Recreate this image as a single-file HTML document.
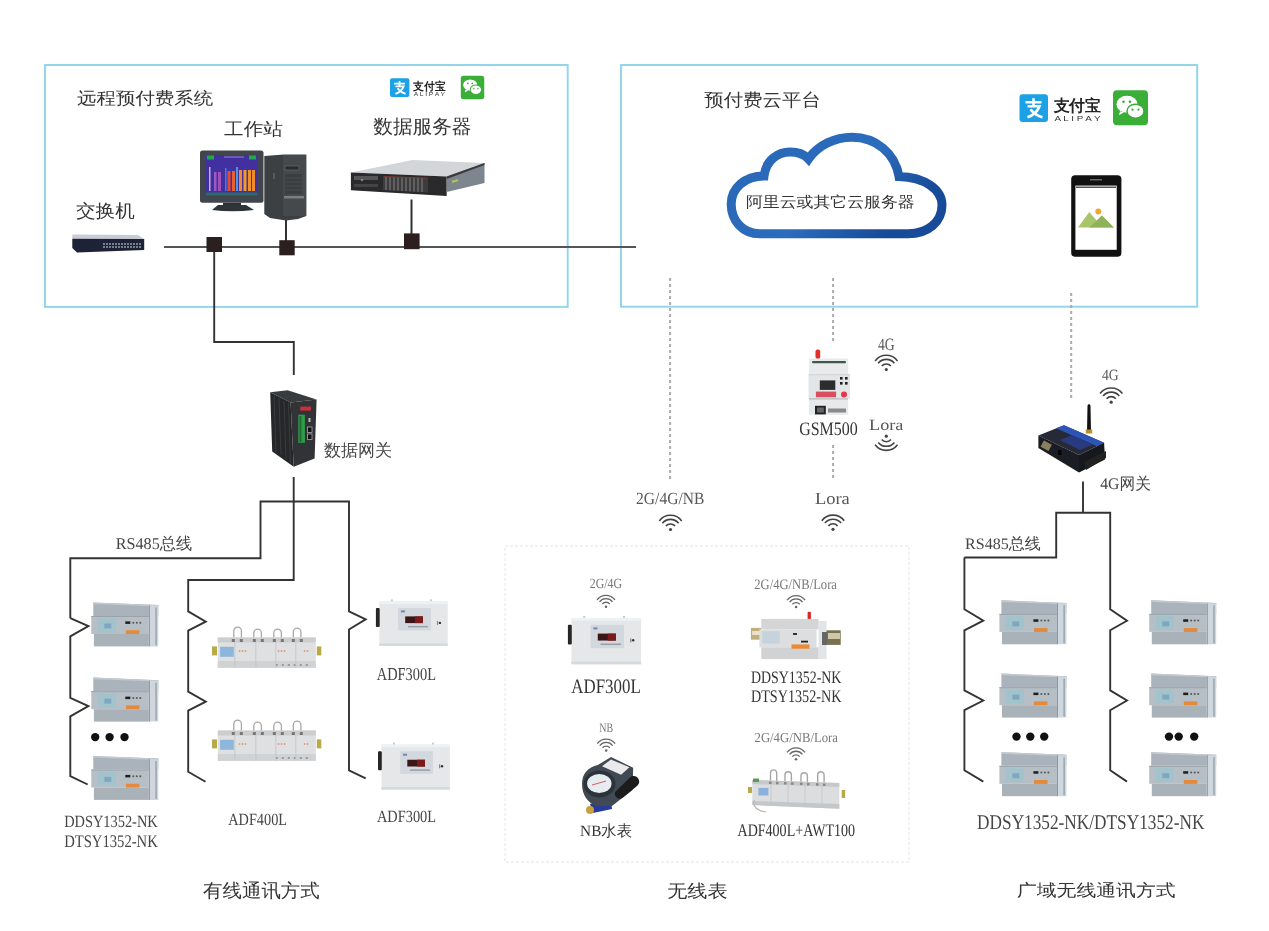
<!DOCTYPE html><html><head><meta charset="utf-8"><style>html,body{margin:0;padding:0;background:#fff;width:1269px;height:931px;overflow:hidden}svg{display:block}</style></head><body>
<svg width="1269" height="931" viewBox="0 0 1269 931" style="opacity:0.999">
<defs>
<linearGradient id="cloudg" gradientUnits="userSpaceOnUse" x1="780" y1="130" x2="880" y2="240">
 <stop offset="0" stop-color="#2a68b8"/><stop offset="0.55" stop-color="#2c6cbc"/><stop offset="1" stop-color="#174a98"/>
</linearGradient>
<symbol id="wifi" overflow="visible">
 <path d="M-11.2 -8.6 A14 14 0 0 1 11.2 -8.6" fill="none" stroke="currentColor" stroke-width="1.6"/>
 <path d="M-8.1 -6.2 A10.4 10.4 0 0 1 8.1 -6.2" fill="none" stroke="currentColor" stroke-width="1.6"/>
 <path d="M-4.6 -3.4 A6 6 0 0 1 4.6 -3.4" fill="none" stroke="currentColor" stroke-width="1.6"/>
 <circle cx="0" cy="0" r="1.6" fill="currentColor"/>
</symbol>
<symbol id="meter" overflow="visible">
 <path d="M2 0 L67 2.6 L67 13.6 L2 13.6 Z" fill="#aab3bb"/>
 <path d="M2 0 L67 2.6 L67 4 L2 1.6 Z" fill="#c2cad0"/>
 <rect x="0" y="13.6" width="57.6" height="18" fill="#b6bfc5"/>
 <rect x="0" y="13.6" width="57.6" height="1" fill="#9aa3aa"/>
 <rect x="6.5" y="16" width="18" height="13.5" fill="#a2c2cc"/>
 <rect x="13" y="21" width="7" height="5" fill="#7fa8c0"/>
 <rect x="34" y="19" width="5" height="2.5" fill="#1e1e1e"/>
 <circle cx="42" cy="20.3" r="1" fill="#555"/><circle cx="45.5" cy="20.3" r="1" fill="#555"/><circle cx="49" cy="20.3" r="1" fill="#555"/>
 <rect x="34.6" y="27.8" width="13.5" height="4" fill="#e48a3a"/>
 <rect x="2.6" y="31.6" width="55" height="12.4" fill="#a9b2b9"/>
 <path d="M57.6 3 L67 3.4 L67 44 L57.6 44 Z" fill="#cdd7dd"/>
 <rect x="57.6" y="3" width="1" height="41" fill="#8f989f"/>
 <rect x="64" y="5" width="1.5" height="38" fill="#9aa5ad"/>
</symbol>
<symbol id="adf400" overflow="visible">
 <g fill="none" stroke="#a8a8a8" stroke-width="1.3">
  <path d="M16 13 V4 A3.8 3.8 0 0 1 23.6 4 V13"/>
  <path d="M36 13 V6 A3.8 3.8 0 0 1 43.6 6 V13"/>
  <path d="M56 13 V6 A3.8 3.8 0 0 1 63.6 6 V13"/>
  <path d="M75.5 13 V5 A3.8 3.8 0 0 1 83.1 5 V13"/>
 </g>
 <rect x="0" y="10.5" width="98" height="30.3" fill="#dfe0e1"/>
 <rect x="0" y="10.5" width="98" height="5" fill="#cbcdcf"/>
 <rect x="0" y="34" width="98" height="6.8" fill="#d0d2d4"/>
 <g fill="#777"><rect x="14" y="12" width="3" height="3"/><rect x="22" y="12" width="3" height="3"/><rect x="35" y="12" width="3" height="3"/><rect x="43" y="12" width="3" height="3"/><rect x="55" y="12" width="3" height="3"/><rect x="63" y="12" width="3" height="3"/><rect x="74" y="12" width="3" height="3"/><rect x="82" y="12" width="3" height="3"/></g>
 <g fill="#9a9a9a"><rect x="58" y="37" width="2" height="2"/><rect x="64" y="37" width="2" height="2"/><rect x="70" y="37" width="2" height="2"/><rect x="76" y="37" width="2" height="2"/><rect x="82" y="37" width="2" height="2"/><rect x="88" y="37" width="2" height="2"/></g>
 <rect x="2.3" y="19.8" width="13.7" height="10" fill="#8db6dc"/>
 <rect x="-5.8" y="19.4" width="5" height="9" fill="#b8a94a"/>
 <rect x="99" y="19.4" width="4.5" height="9" fill="#b8a94a"/>
 <path d="M17 15 V41 M38 15 V41 M58 15 V41 M78 15 V41" stroke="#c2c4c6" stroke-width="0.8"/>
 <g fill="#e0a080"><rect x="21" y="23" width="1.5" height="2"/><rect x="24" y="23" width="1.5" height="2"/><rect x="27" y="23" width="1.5" height="2"/><rect x="60" y="23" width="1.5" height="2"/><rect x="63" y="23" width="1.5" height="2"/><rect x="66" y="23" width="1.5" height="2"/><rect x="86" y="23" width="1.5" height="2"/><rect x="89" y="23" width="1.5" height="2"/></g>
</symbol>
<symbol id="adf300" overflow="visible">
 <rect x="15" y="-2" width="2" height="3" fill="#ccc"/><rect x="54" y="-2" width="2" height="3" fill="#ccc"/>
 <rect x="3.5" y="0" width="68.3" height="44.5" fill="#e5e7e9"/>
 <rect x="3.5" y="0" width="68.3" height="2.5" fill="#f0f1f2"/>
 <rect x="3.5" y="42" width="68.3" height="2.5" fill="#d6d8da"/>
 <rect x="0" y="6.5" width="3.8" height="19" rx="1" fill="#262626"/>
 <rect x="22.2" y="6.6" width="32.8" height="22.4" fill="#d3d7de"/>
 <rect x="29.3" y="15" width="17.7" height="6.7" fill="#3c1616"/>
 <rect x="39" y="15" width="8" height="6.7" fill="#7a1a1a"/>
 <rect x="25" y="9" width="4" height="2" fill="#7788aa"/>
 <rect x="32" y="24.5" width="20" height="1.5" fill="#9aa0a8"/>
 <rect x="61" y="19.5" width="1.2" height="4" fill="#888"/><circle cx="64" cy="21.5" r="1.2" fill="#333"/>
</symbol>
</defs>
<rect x="45" y="65" width="522.7" height="241.9" fill="none" stroke="#94d6e9" stroke-width="2"/>
<rect x="621" y="65" width="576.2" height="241.7" fill="none" stroke="#94d6e9" stroke-width="2"/>
<rect x="505" y="546" width="404" height="316" fill="none" stroke="#e4e4e4" stroke-width="1" stroke-dasharray="3 2"/>
<line x1="164" y1="247" x2="636" y2="247" stroke="#555" stroke-width="2"/>
<line x1="286" y1="220" x2="286" y2="241" stroke="#333" stroke-width="2"/>
<line x1="411.5" y1="199.5" x2="411.5" y2="234" stroke="#333" stroke-width="2"/>
<g fill="#2b1f1f"><rect x="206.5" y="237" width="15.5" height="15"/><rect x="279.3" y="240.2" width="15.4" height="15.1"/><rect x="404" y="233.4" width="15.6" height="15.8"/></g>
<g fill="none" stroke="#333" stroke-width="1.9" stroke-linejoin="miter">
<path d="M214.2 252 V342 H293.8 V375"/>
<path d="M293.7 477 V580 H188.2 V611.4 L205.8 621.6 L188.2 630.6 V691.6 L205.8 701.7 L188.2 710.7 V771.7 L205.5 781.8"/>
<path d="M70.3 618.2 V558.2 H260.5 V501.5 H349 V611.4 L365.7 619.3 L349 629.5 V770.4 L365.7 778.3"/>
<path d="M70.3 618.2 L88.4 626.1 L70.3 636.3 V697.9 L88.4 706.2 L70.3 716.4 V776.2 L87.7 784.5"/>
<path d="M1083 481.5 V512.8"/>
<path d="M964.4 557.5 H1056.2 V512.8 H1110.2 V609.3 L1127 620.7 L1110.2 630.3 V690.4 L1127 700.5 L1110.2 710.2 V770.3 L1127 781.6"/>
<path d="M964.4 557.5 V609.3 L983.3 620.7 L964.4 630.3 V690.4 L983.3 700.5 L964.4 710.2 V770.3 L983.3 781.6"/>
</g>
<g stroke="#aaaaaa" stroke-width="2" stroke-dasharray="3 3">
<line x1="670.1" y1="278" x2="670.1" y2="480"/>
<line x1="833.1" y1="278" x2="833.1" y2="343"/>
<line x1="833.1" y1="445" x2="833.1" y2="480"/>
<line x1="1071.2" y1="293" x2="1071.2" y2="398"/>
</g>
<use href="#wifi" transform="translate(886.3,369.5) scale(1.0)" style="color:#444"/>
<use href="#wifi" transform="translate(886.3,436.2) scale(1,-1)" style="color:#444"/>
<use href="#wifi" transform="translate(670.5,529.5) scale(1.0)" style="color:#444"/>
<use href="#wifi" transform="translate(833,529.3) scale(1.0)" style="color:#444"/>
<use href="#wifi" transform="translate(1111.2,402.2) scale(1.0)" style="color:#444"/>
<use href="#wifi" transform="translate(606,606.7) scale(0.8)" style="color:#666"/>
<use href="#wifi" transform="translate(796.1,607) scale(0.8)" style="color:#666"/>
<use href="#wifi" transform="translate(606.2,750.5) scale(0.8)" style="color:#666"/>
<use href="#wifi" transform="translate(796,759.3) scale(0.8)" style="color:#666"/>
<g>
<rect x="200" y="150.4" width="63.5" height="52.4" rx="2.5" fill="#40464b"/>
<rect x="206" y="155" width="51.5" height="40" fill="#4330a0"/>
<rect x="207" y="155.5" width="7" height="4" fill="#22a84a"/><rect x="249" y="155.5" width="7" height="4" fill="#22a84a"/>
<rect x="224" y="156" width="20" height="2" fill="#6a5ab8"/>
<rect x="209" y="167" width="1.5" height="24" fill="#c0b0e8"/>
<rect x="214" y="172" width="2.5" height="19" fill="#9a58c0"/><rect x="218" y="172" width="3" height="19" fill="#a050b8"/>
<rect x="225" y="168" width="1.5" height="23" fill="#3f7ee0"/><rect x="227.5" y="171" width="3" height="20" fill="#e84a30"/><rect x="232" y="171" width="3" height="20" fill="#e86030"/>
<rect x="236" y="167" width="2" height="24" fill="#4a9ae0"/>
<rect x="239" y="170" width="3" height="21" fill="#f08a30"/><rect x="243.5" y="170" width="3" height="21" fill="#f39a2a"/><rect x="248" y="170" width="3" height="21" fill="#f0922c"/><rect x="252" y="170" width="3" height="21" fill="#f08a30"/>
<rect x="206" y="192.5" width="51.5" height="3" fill="#2f6a6a"/>
<rect x="223" y="202.8" width="18" height="3" fill="#2e3337"/>
<path d="M218 205 H246 L254 210 Q232 212.5 212 210 Z" fill="#2f3438"/>
</g>
<g>
<path d="M264.3 156 L284 154.4 H306.4 V216 L298 219 L286 220.5 L270 218 L264.3 214 Z" fill="#3c4043"/>
<rect x="283" y="155" width="23" height="61" fill="#45494c"/>
<rect x="285" y="166" width="14" height="4" fill="#2a2d30" stroke="#6a6e72" stroke-width="0.6"/>
<rect x="285" y="174" width="17" height="20" fill="#3a3e41"/>
<path d="M285 178 H302 M285 182 H302 M285 186 H302 M285 190 H302" stroke="#55595c" stroke-width="0.6"/>
<rect x="284" y="196" width="20" height="2.5" fill="#7a7e82"/>
<rect x="273" y="173" width="2" height="6" fill="#55595c"/>
</g>
<g>
<path d="M350.9 172.5 L412.4 160 L484.5 163 L446.7 176.6 Z" fill="#d3d6d8"/>
<path d="M350.9 172.5 L446.7 176.6 L446.7 196.1 L350.9 190.2 Z" fill="#2a2a2c"/>
<path d="M446.7 176.6 L484.5 163 L484.5 183.1 L446.7 192 Z" fill="#7d868e"/>
<path d="M446.7 176.6 L484.5 163 L484.5 165 L446.7 179 Z" fill="#3a3a3a"/>
<path d="M383 176 L428 177.8 L428 192.5 L383 190 Z" fill="#3c3c3e"/>
<path d="M386 177 V190 M390 177 V190.3 M394 177.3 V190.5 M398 177.4 V190.7 M402 177.5 V191 M406 177.6 V191.2 M410 177.7 V191.4 M414 177.8 V191.6 M418 177.9 V191.8 M422 178 V192" stroke="#8a8a8a" stroke-width="0.9"/>
<path d="M384 176.5 L427 178.2" stroke="#8a3a2a" stroke-width="0.8"/>
<rect x="354" y="176" width="24" height="4" fill="#555"/>
<rect x="354" y="184" width="24" height="3" fill="#444"/>
<circle cx="362" cy="180" r="1.2" fill="#888"/>
<path d="M452 182 L458 180" stroke="#b9c24a" stroke-width="2"/>
</g>
<g>
<path d="M72.3 234.5 L138 235 L144.2 239 L72.3 238.8 Z" fill="#c9ccd6"/>
<path d="M72.3 238.8 L144.2 239 L144.2 250 L77 252.4 L72.3 248 Z" fill="#1d2236"/>
<path d="M103 244 H141 M103 247 H141" stroke="#d8dbe6" stroke-width="1.2" stroke-dasharray="2 1"/>
</g>
<g transform="translate(390,78.2) scale(0.68)">
<rect x="0" y="0" width="28.5" height="27.7" rx="3" fill="#1da1e6"/>
<path d="M6 8 H22 M14 4 V11 M8 12 H20 Q17 20 8 23 M11 15 Q16 21 23 23" stroke="#fff" stroke-width="2.6" fill="none"/>
<text x="34" y="17" font-family="Liberation Sans, sans-serif" font-weight="bold" font-size="16" fill="#222" textLength="47.5" lengthAdjust="spacingAndGlyphs">支付宝</text>
<text x="35" y="26.4" font-family="Liberation Sans, sans-serif" font-size="7" fill="#333" textLength="46" lengthAdjust="spacingAndGlyphs">A L I P A Y</text>
</g>
<g transform="translate(460.8,75.7) scale(0.67)">
<rect x="0" y="0" width="35" height="35" rx="4" fill="#3aae36"/>
<ellipse cx="14" cy="14" rx="10.5" ry="8.5" fill="#fff"/>
<ellipse cx="22.5" cy="21" rx="8.5" ry="7" fill="#fff" stroke="#3aae36" stroke-width="1.5"/>
<path d="M7 21 L6 25 L11 22 Z" fill="#fff"/>
<circle cx="10.5" cy="11.5" r="1.3" fill="#3aae36"/><circle cx="17" cy="11.5" r="1.3" fill="#3aae36"/>
<circle cx="19.5" cy="19.5" r="1.1" fill="#3aae36"/><circle cx="25.5" cy="19.5" r="1.1" fill="#3aae36"/>
</g>
<g transform="translate(1019.5,94.3) scale(1.0)">
<rect x="0" y="0" width="28.5" height="27.7" rx="3" fill="#1da1e6"/>
<path d="M6 8 H22 M14 4 V11 M8 12 H20 Q17 20 8 23 M11 15 Q16 21 23 23" stroke="#fff" stroke-width="2.6" fill="none"/>
<text x="34" y="17" font-family="Liberation Sans, sans-serif" font-weight="bold" font-size="16" fill="#222" textLength="47.5" lengthAdjust="spacingAndGlyphs">支付宝</text>
<text x="35" y="26.4" font-family="Liberation Sans, sans-serif" font-size="7" fill="#333" textLength="46" lengthAdjust="spacingAndGlyphs">A L I P A Y</text>
</g>
<g transform="translate(1113,90.2) scale(1.0)">
<rect x="0" y="0" width="35" height="35" rx="4" fill="#3aae36"/>
<ellipse cx="14" cy="14" rx="10.5" ry="8.5" fill="#fff"/>
<ellipse cx="22.5" cy="21" rx="8.5" ry="7" fill="#fff" stroke="#3aae36" stroke-width="1.5"/>
<path d="M7 21 L6 25 L11 22 Z" fill="#fff"/>
<circle cx="10.5" cy="11.5" r="1.3" fill="#3aae36"/><circle cx="17" cy="11.5" r="1.3" fill="#3aae36"/>
<circle cx="19.5" cy="19.5" r="1.1" fill="#3aae36"/><circle cx="25.5" cy="19.5" r="1.1" fill="#3aae36"/>
</g>
<path d="M760 233.7 C742 233.7 731.2 220 731.2 204 C731.2 188 745 176 764 176 C766 160 778 152 790 152 C798 152 804 154 808.5 159 C818 145 835 137.3 852 137.3 C876 137.3 895 153 899 176.5 C925 177 942 190 942 205 C942 222 928 233.7 908 233.7 Z" fill="none" stroke="url(#cloudg)" stroke-width="9"/>
<g>
<rect x="1071.2" y="175.3" width="50.2" height="81.5" rx="4" fill="#111"/>
<rect x="1075.4" y="185.6" width="41.3" height="64.2" fill="#fff"/>
<rect x="1090" y="179" width="12" height="1.5" fill="#666"/>
<rect x="1076" y="186.5" width="40" height="1.5" fill="#555"/>
<path d="M1078 227.5 L1089.3 212 L1097 221 L1101.9 215.5 L1113.9 227.5 Z" fill="#a9c56a"/>
<path d="M1089.3 227.5 L1101.9 215.5 L1113.9 227.5 Z" fill="#8fb35a"/>
<circle cx="1098.3" cy="211.6" r="3" fill="#f0a830"/>
</g>
<g>
<path d="M270.2 392.2 L287.6 390.2 L316.6 399.4 L290.6 402.4 Z" fill="#3a3b3e"/>
<path d="M270.2 392.2 L290.6 402.4 L293.7 466.7 L272.2 451.4 Z" fill="#262729"/>
<path d="M274 396 L276 452 M279 398 L281 455 M284 401 L286 459 M288.5 403 L290.5 463" stroke="#3a3b3e" stroke-width="1"/>
<path d="M290.6 402.4 L316.6 399.4 L314.6 458.6 L293.7 466.7 Z" fill="#323337"/>
<rect x="298.3" y="414.7" width="6.6" height="28.1" fill="#2f9e4a"/>
<rect x="299.5" y="416" width="2" height="26" fill="#1f6a30"/>
<rect x="300.3" y="406.6" width="10.7" height="4" fill="#c8303a"/>
<rect x="307.4" y="427" width="4.6" height="5.5" fill="#111" stroke="#aaa" stroke-width="0.8"/>
<rect x="307.4" y="434" width="4.6" height="5.5" fill="#111" stroke="#aaa" stroke-width="0.8"/>
<rect x="308.5" y="418" width="2" height="4" fill="#bbb"/>
</g>
<g>
<rect x="815.5" y="349.5" width="4.7" height="9.5" rx="2" fill="#e0302c"/>
<rect x="809" y="358.5" width="39.2" height="16" fill="#e9eaeb"/>
<rect x="812" y="361" width="34" height="2.3" rx="1" fill="#3f5a48"/>
<rect x="808.5" y="374.4" width="41.4" height="24.1" fill="#e4e5e6"/>
<rect x="808.5" y="374.4" width="41.4" height="0.8" fill="#c9cacb"/>
<rect x="819.8" y="380.4" width="15.5" height="9.5" fill="#2b2d2e"/>
<rect x="840" y="377" width="2.6" height="2.6" fill="#222"/><rect x="845" y="377" width="2.6" height="2.6" fill="#222"/>
<rect x="840" y="382" width="2.6" height="2.6" fill="#222"/><rect x="845" y="382" width="2.6" height="2.6" fill="#222"/>
<rect x="815.9" y="391.6" width="20.2" height="5.6" fill="#d8505e"/>
<circle cx="844" cy="394.4" r="3" fill="#e03a4a"/>
<rect x="809" y="398.5" width="39.2" height="16.3" fill="#e8e9ea"/>
<rect x="809" y="398.5" width="39.2" height="0.8" fill="#9a9c9e"/>
<rect x="815" y="405.8" width="10.8" height="8.6" fill="#222"/>
<rect x="817" y="407.5" width="6.8" height="5" fill="#666"/>
<rect x="828" y="408.5" width="18" height="4" fill="#8a8a8a"/>
</g>
<g>
<path d="M1087 432 L1087.5 406 C1087.5 403.5 1090.5 403.5 1090.5 406 L1091 432 Z" fill="#111"/>
<rect x="1085.8" y="429.5" width="6.4" height="4" fill="#b8902a"/>
<path d="M1038.4 435.4 L1064 425.3 L1104.1 442.7 L1079 455 Z" fill="#262a36"/>
<path d="M1056 428.2 L1064 425.3 L1104.1 442.7 L1097 446.2 Z" fill="#2d55b8"/>
<path d="M1060 440 L1072 435 L1092 445 L1080 450 Z" fill="#2a3a80"/>
<path d="M1038.4 435.4 L1079 455 L1079 472.6 L1038.4 448 Z" fill="#1b1d24"/>
<path d="M1079 455 L1104.1 442.7 L1105 459.6 L1079 472.6 Z" fill="#16181d"/>
<path d="M1084 462 L1106 451 L1106 458 L1086 470 Z" fill="#222"/>
<rect x="1042" y="442" width="9" height="7" fill="#8a8060" transform="rotate(28 1046 445)"/>
<rect x="1058" y="450" width="3.5" height="5" fill="#000"/>
</g>
<use href="#meter" transform="translate(91.3,602.4)"/>
<use href="#meter" transform="translate(91.3,677.6)"/>
<use href="#meter" transform="translate(91.3,755.9)"/>
<use href="#meter" transform="translate(999.4,600.3)"/>
<use href="#meter" transform="translate(999.4,673.6)"/>
<use href="#meter" transform="translate(999.4,752.2)"/>
<use href="#meter" transform="translate(1149.2,600.3)"/>
<use href="#meter" transform="translate(1149.2,673.6)"/>
<use href="#meter" transform="translate(1149.2,752.2)"/>
<g fill="#111"><circle cx="95.2" cy="737.1" r="4.2"/><circle cx="109.6" cy="737.1" r="4.2"/><circle cx="124.5" cy="737.1" r="4.2"/>
<circle cx="1016.5" cy="736.6" r="4.2"/><circle cx="1030.3" cy="736.6" r="4.2"/><circle cx="1044.2" cy="736.6" r="4.2"/>
<circle cx="1169" cy="736.6" r="4.2"/><circle cx="1178.7" cy="736.6" r="4.2"/><circle cx="1194.2" cy="736.6" r="4.2"/></g>
<use href="#adf400" transform="translate(217.8,627)"/>
<use href="#adf400" transform="translate(217.8,720)"/>
<use href="#adf300" transform="translate(375.9,601.4)"/>
<use href="#adf300" transform="translate(378,744.6) scale(1,1.01)"/>
<use href="#adf300" transform="translate(567.9,618) scale(1.02,1.04)"/>
<g>
<rect x="750.9" y="627.9" width="10.4" height="11.8" fill="#bfae7e"/>
<rect x="752" y="631" width="8" height="4" fill="#e8e0c8"/>
<rect x="822.3" y="630.3" width="18.4" height="14.6" fill="#77714f"/>
<rect x="828" y="633" width="12" height="6" fill="#cfc8a8"/>
<rect x="818.5" y="621" width="8" height="38" fill="#e2e4e6"/>
<rect x="822" y="632" width="5" height="13" fill="#666"/>
<rect x="807.6" y="611.8" width="3.3" height="8.1" rx="1" fill="#d8282a"/>
<rect x="761.3" y="618.9" width="57.2" height="10.4" fill="#d3d5d7"/>
<rect x="759.4" y="629.3" width="57.2" height="18" fill="#dcdee0"/>
<rect x="761.3" y="647.3" width="57.2" height="11.8" fill="#d0d2d4"/>
<rect x="762.2" y="631.2" width="17.5" height="12.3" fill="#c6d3dc"/>
<rect x="791.5" y="644.4" width="18" height="4.3" fill="#ec8a34"/>
<rect x="801" y="640.7" width="7" height="1.8" fill="#222"/>
<rect x="793" y="633" width="4" height="2" fill="#333"/>
</g>
<g>
<path d="M590 804 L611 800 L612 809 L593 813 Z" fill="#2a3a9a"/>
<circle cx="590" cy="810" r="4" fill="#c8a040"/>
<path d="M597.8 765 L611 757.1 L633.2 767.7 L632.4 790 L612 806 L596 806 C588 803 582 795 582 784 C582 774 588 767 597.8 765 Z" fill="#414a52"/>
<ellipse cx="599.5" cy="784" rx="16" ry="13.5" fill="#2c343b"/>
<path d="M602 766.2 L611 759.4 L629.4 767.3 L621.1 774.8 Z" fill="#e8eaec"/>
<ellipse cx="599.3" cy="783.5" rx="12.2" ry="9.5" fill="#e6ecf0"/>
<path d="M592 785 L606 781" stroke="#c04040" stroke-width="0.8"/>
<path d="M616 791 L630 777.5 C633 775 637 776 638.5 779 C640 782 639 784 637 786 L623 797.5 C620 800 615.5 798 615 795 C614.7 793.5 615 792 616 791 Z" fill="#1c1c1c"/>
</g>
<g>
<g fill="none" stroke="#a5a5a5" stroke-width="1.4">
<path d="M770.5 781 V773 A3.1 3.1 0 0 1 776.7 773 V781"/>
<path d="M785 782 V775 A3.2 3.2 0 0 1 791.4 775 V782"/>
<path d="M801 783 V776 A3.2 3.2 0 0 1 807.4 776 V783"/>
<path d="M817.7 784 V775 A3.2 3.2 0 0 1 824.1 775 V784"/>
</g>
<path d="M752.3 779.9 L839.3 783 L839.3 808.7 L752.3 805 Z" fill="#dcddde"/>
<path d="M752.3 779.9 L839.3 783 L839.3 787 L752.3 784 Z" fill="#c6c8ca"/>
<path d="M752.3 801 L839.3 804 L839.3 808.7 L752.3 805 Z" fill="#c4c6c8"/>
<rect x="758.4" y="787.9" width="10" height="7.6" fill="#8ab2dc"/>
<path d="M771 781 V805.5 M788 781.5 V806 M805 782 V806.6 M822 782.6 V807.4" stroke="#c4c6c8" stroke-width="0.8"/>
<g fill="#888"><rect x="769" y="781.5" width="2.5" height="2.5"/><rect x="776" y="781.8" width="2.5" height="2.5"/><rect x="784" y="782" width="2.5" height="2.5"/><rect x="791" y="782.3" width="2.5" height="2.5"/><rect x="800" y="782.6" width="2.5" height="2.5"/><rect x="807" y="782.9" width="2.5" height="2.5"/><rect x="816" y="783.2" width="2.5" height="2.5"/><rect x="823" y="783.5" width="2.5" height="2.5"/></g>
<rect x="753" y="778.5" width="6" height="3.5" fill="#5a9a5a"/>
<rect x="748" y="787" width="4" height="6" fill="#b9a94a"/>
<rect x="841.7" y="790" width="3.5" height="8" fill="#b9a94a"/>
<path d="M754 800 Q752 810 766 812" fill="none" stroke="#bbb" stroke-width="1.2"/>
</g>
<g style="opacity:0.995">
<text transform="matrix(1.0246 0 0 0.8959 77.00 103.81)" text-rendering="geometricPrecision" font-family="Liberation Serif, serif" font-size="19" fill="#333" textLength="133" lengthAdjust="spacingAndGlyphs">远程预付费系统</text>
<text transform="matrix(1.0358 0 0 0.9316 224.00 135.37)" text-rendering="geometricPrecision" font-family="Liberation Serif, serif" font-size="19" fill="#333" textLength="57" lengthAdjust="spacingAndGlyphs">工作站</text>
<text transform="matrix(1.0350 0 0 1.0146 373.21 133.20)" text-rendering="geometricPrecision" font-family="Liberation Serif, serif" font-size="19" fill="#333" textLength="95" lengthAdjust="spacingAndGlyphs">数据服务器</text>
<text transform="matrix(1.0313 0 0 0.9474 75.97 216.66)" text-rendering="geometricPrecision" font-family="Liberation Serif, serif" font-size="19" fill="#333" textLength="57" lengthAdjust="spacingAndGlyphs">交换机</text>
<text transform="matrix(1.0224 0 0 0.9373 704.25 105.71)" text-rendering="geometricPrecision" font-family="Liberation Serif, serif" font-size="19" fill="#333" textLength="114" lengthAdjust="spacingAndGlyphs">预付费云平台</text>
<text transform="matrix(0.9926 0 0 0.8865 746.00 206.63)" text-rendering="geometricPrecision" font-family="Liberation Serif, serif" font-size="17" fill="#333" textLength="170" lengthAdjust="spacingAndGlyphs">阿里云或其它云服务器</text>
<text transform="matrix(1.0001 0 0 1.0000 323.99 455.50)" text-rendering="geometricPrecision" font-family="Liberation Serif, serif" font-size="17" fill="#444" textLength="68" lengthAdjust="spacingAndGlyphs">数据网关</text>
<text transform="matrix(0.9495 0 0 0.9698 115.80 548.55)" text-rendering="geometricPrecision" font-family="Liberation Serif, serif" font-size="17" fill="#444" textLength="80.296875" lengthAdjust="spacingAndGlyphs">RS485总线</text>
<text transform="matrix(0.9431 0 0 0.9386 965.05 548.63)" text-rendering="geometricPrecision" font-family="Liberation Serif, serif" font-size="17" fill="#444" textLength="80.296875" lengthAdjust="spacingAndGlyphs">RS485总线</text>
<text transform="matrix(0.9261 0 0 0.9532 1100.24 489.34)" text-rendering="geometricPrecision" font-family="Liberation Serif, serif" font-size="17" fill="#444" textLength="54.78125" lengthAdjust="spacingAndGlyphs">4G网关</text>
<text transform="matrix(0.9135 0 0 1.1508 877.99 350.25)" text-rendering="geometricPrecision" font-family="Liberation Serif, serif" font-size="15" fill="#555" textLength="18.34375" lengthAdjust="spacingAndGlyphs">4G</text>
<text transform="matrix(0.8420 0 0 1.0026 799.15 435.00)" text-rendering="geometricPrecision" font-family="Liberation Serif, serif" font-size="19" fill="#333" textLength="69.6875" lengthAdjust="spacingAndGlyphs">GSM500</text>
<text transform="matrix(1.1358 0 0 0.9801 869.08 429.75)" text-rendering="geometricPrecision" font-family="Liberation Serif, serif" font-size="16" fill="#555" textLength="30.203125" lengthAdjust="spacingAndGlyphs">Lora</text>
<text transform="matrix(0.9145 0 0 1.0027 636.08 504.00)" text-rendering="geometricPrecision" font-family="Liberation Serif, serif" font-size="17" fill="#555" textLength="74.625" lengthAdjust="spacingAndGlyphs">2G/4G/NB</text>
<text transform="matrix(1.0838 0 0 1.0000 814.92 504.00)" text-rendering="geometricPrecision" font-family="Liberation Serif, serif" font-size="17" fill="#555" textLength="32.09375" lengthAdjust="spacingAndGlyphs">Lora</text>
<text transform="matrix(0.9143 0 0 1.0509 1102.00 379.51)" text-rendering="geometricPrecision" font-family="Liberation Serif, serif" font-size="15" fill="#555" textLength="18.34375" lengthAdjust="spacingAndGlyphs">4G</text>
<text transform="matrix(0.8479 0 0 1.0708 376.75 679.75)" text-rendering="geometricPrecision" font-family="Liberation Serif, serif" font-size="17" fill="#444" textLength="69.90625" lengthAdjust="spacingAndGlyphs">ADF300L</text>
<text transform="matrix(0.8464 0 0 1.0027 64.15 827.49)" text-rendering="geometricPrecision" font-family="Liberation Serif, serif" font-size="17" fill="#444" textLength="110.5" lengthAdjust="spacingAndGlyphs">DDSY1352-NK</text>
<text transform="matrix(0.8622 0 0 1.0461 64.14 847.00)" text-rendering="geometricPrecision" font-family="Liberation Serif, serif" font-size="17" fill="#444" textLength="108.609375" lengthAdjust="spacingAndGlyphs">DTSY1352-NK</text>
<text transform="matrix(0.8406 0 0 1.0027 228.25 825.24)" text-rendering="geometricPrecision" font-family="Liberation Serif, serif" font-size="17" fill="#444" textLength="69.90625" lengthAdjust="spacingAndGlyphs">ADF400L</text>
<text transform="matrix(0.8443 0 0 1.0027 377.00 822.24)" text-rendering="geometricPrecision" font-family="Liberation Serif, serif" font-size="17" fill="#444" textLength="69.90625" lengthAdjust="spacingAndGlyphs">ADF300L</text>
<text transform="matrix(1.0243 0 0 0.9877 203.00 896.81)" text-rendering="geometricPrecision" font-family="Liberation Sans, sans-serif" font-size="19" fill="#333" textLength="114" lengthAdjust="spacingAndGlyphs">有线通讯方式</text>
<text transform="matrix(0.9120 0 0 1.0871 589.83 588.00)" text-rendering="geometricPrecision" font-family="Liberation Serif, serif" font-size="13" fill="#777" textLength="35.390625" lengthAdjust="spacingAndGlyphs">2G/4G</text>
<text transform="matrix(0.9703 0 0 1.1111 754.27 588.50)" text-rendering="geometricPrecision" font-family="Liberation Serif, serif" font-size="13" fill="#777" textLength="85.21875" lengthAdjust="spacingAndGlyphs">2G/4G/NB/Lora</text>
<text transform="matrix(0.8897 0 0 1.0794 571.25 693.25)" text-rendering="geometricPrecision" font-family="Liberation Serif, serif" font-size="19" fill="#333" textLength="78.125" lengthAdjust="spacingAndGlyphs">ADF300L</text>
<text transform="matrix(0.8188 0 0 1.0251 750.93 683.24)" text-rendering="geometricPrecision" font-family="Liberation Serif, serif" font-size="17" fill="#333" textLength="110.5" lengthAdjust="spacingAndGlyphs">DDSY1352-NK</text>
<text transform="matrix(0.8341 0 0 1.0461 750.91 701.75)" text-rendering="geometricPrecision" font-family="Liberation Serif, serif" font-size="17" fill="#333" textLength="108.609375" lengthAdjust="spacingAndGlyphs">DTSY1352-NK</text>
<text transform="matrix(0.7665 0 0 1.0057 599.23 732.26)" text-rendering="geometricPrecision" font-family="Liberation Serif, serif" font-size="13" fill="#777" textLength="18.0625" lengthAdjust="spacingAndGlyphs">NB</text>
<text transform="matrix(0.9792 0 0 1.0567 754.52 742.26)" text-rendering="geometricPrecision" font-family="Liberation Serif, serif" font-size="13" fill="#777" textLength="85.21875" lengthAdjust="spacingAndGlyphs">2G/4G/NB/Lora</text>
<text transform="matrix(0.9005 0 0 0.9220 580.09 835.91)" text-rendering="geometricPrecision" font-family="Liberation Serif, serif" font-size="17" fill="#333" textLength="57.625" lengthAdjust="spacingAndGlyphs">NB水表</text>
<text transform="matrix(0.8257 0 0 1.0461 737.50 836.26)" text-rendering="geometricPrecision" font-family="Liberation Serif, serif" font-size="17" fill="#333" textLength="142.328125" lengthAdjust="spacingAndGlyphs">ADF400L+AWT100</text>
<text transform="matrix(1.0591 0 0 0.9306 667.19 896.64)" text-rendering="geometricPrecision" font-family="Liberation Sans, sans-serif" font-size="19" fill="#333" textLength="57" lengthAdjust="spacingAndGlyphs">无线表</text>
<text transform="matrix(0.9086 0 0 1.0984 977.09 828.77)" text-rendering="geometricPrecision" font-family="Liberation Serif, serif" font-size="19" fill="#444" textLength="250.171875" lengthAdjust="spacingAndGlyphs">DDSY1352-NK/DTSY1352-NK</text>
<text transform="matrix(1.0434 0 0 0.8889 1016.95 896.22)" text-rendering="geometricPrecision" font-family="Liberation Sans, sans-serif" font-size="19" fill="#333" textLength="152" lengthAdjust="spacingAndGlyphs">广域无线通讯方式</text>
</g>
</svg></body></html>
